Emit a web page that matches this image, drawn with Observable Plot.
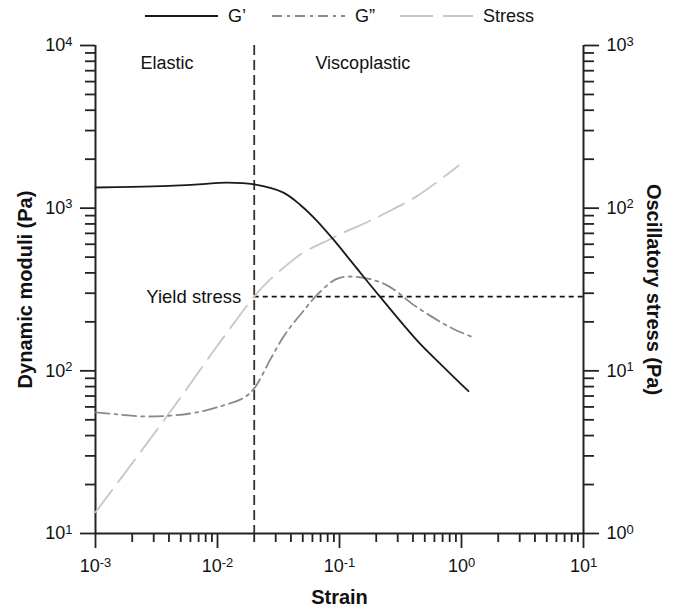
<!DOCTYPE html>
<html><head><meta charset="utf-8">
<script src="https://cdn.jsdelivr.net/npm/d3@7"></script>
<script src="https://cdn.jsdelivr.net/npm/@observablehq/plot@0.6"></script>
<style>
body{margin:0;background:#fff;font-family:"Liberation Sans",Arial,sans-serif;color:#111;}
#legend{position:relative;height:32px;width:675px;}
.item{position:absolute;top:0;height:32px;display:flex;align-items:center;font-size:18px;}
.item svg{margin-right:10px;}
#chart svg{display:block;}
</style></head><body>
<div id="legend"></div>
<div id="chart"></div>
<script>
// G' (storage modulus), Pa
const strainGp = [0.001, 0.002, 0.004, 0.007, 0.012, 0.02, 0.0347, 0.048, 0.065, 0.0893, 0.12, 0.163, 0.217, 0.435, 0.7, 1.14];
const Gp       = [1340, 1350, 1370, 1400, 1435, 1400, 1247, 1043, 839, 640, 488, 367, 283, 153, 107, 75];
// G'' (loss modulus), Pa
const strainGpp = [0.001, 0.0015, 0.0027, 0.006, 0.0112, 0.0165, 0.02, 0.0272, 0.034, 0.040, 0.051, 0.0635, 0.093, 0.123, 0.23, 0.435, 0.81, 1.19];
const Gpp       = [55.5, 54, 52.4, 54.7, 61.3, 68.5, 78, 118, 158, 188, 235, 286, 365, 380, 344, 245, 185, 163];
// Oscillatory stress, Pa (right axis)
const strainS = [0.001, 0.004, 0.01, 0.02, 0.0255, 0.041, 0.051, 0.082, 0.116, 0.163, 0.23, 0.434, 0.95];
const stress  = [1.35, 5.46, 14.3, 28.6, 35, 47.6, 53.6, 64, 72.5, 81, 92, 119, 183];
// Yield point
const yieldStrain = 0.02;
const yieldStress = 28.6;
// Axes
const xDomain = [0.001, 10];
const yDomain = [10, 10000];
const xMajor = [0.001, 0.01, 0.1, 1, 10];
const yMajor = [10, 100, 1000, 10000];
const seriesNames = ["G\u2019", "G\u201D", "Stress"];
const regionNames = ["Elastic", "Viscoplastic"];
const regionX = [0.00234, 0.0635];

const minor = (lo, hi) => {
  const out = [];
  for (let e = lo; e < hi; e++) for (let m = 2; m <= 9; m++) out.push(m * Math.pow(10, e));
  return out;
};
const xMinor = minor(-3, 1);
const yMinor = minor(1, 4);

const toRows = (xs, ys) => xs.map((x, i) => ({x, y: ys[i]}));
const gpRows = toRows(strainGp, Gp);
const gppRows = toRows(strainGpp, Gpp);
const sRows = toRows(strainS, stress);
const RATIO = 10; // left axis value / right axis value
const xMid = Math.sqrt(xDomain[0] * xDomain[1]);
const yMid = Math.sqrt(yDomain[0] * yDomain[1]);

const expLabel = v => "10^" + Math.round(Math.log10(v));

const styles = [
  {stroke: "#1a1a1a", dash: null},
  {stroke: "#8a8a8a", dash: "14,5,3,5"},
  {stroke: "#c6c6c6", dash: "28,10"}
];

// Legend
const legendPos = [145, 272, 400];
const legend = document.getElementById("legend");
seriesNames.forEach((name, i) => {
  const d = document.createElement("div");
  d.className = "item";
  d.style.left = legendPos[i] + "px";
  d.innerHTML = `<svg width="73" height="4"><line x1="0" x2="73" y1="2" y2="2" stroke="${styles[i].stroke}" stroke-width="2" ${styles[i].dash ? `stroke-dasharray="${i===2 ? "33,10" : "10,5,3,5"}"` : ""}/></svg><span>${name}</span>`;
  legend.appendChild(d);
});

const axisCol = "#222";
const plot = Plot.plot({
  width: 675,
  height: 580,
  marginTop: 13,
  marginBottom: 79,
  marginLeft: 95,
  marginRight: 92,
  style: {fontFamily: "Liberation Sans, Arial, sans-serif", background: "#fff", color: "#111"},
  x: {type: "log", domain: xDomain},
  y: {type: "log", domain: yDomain},
  marks: [
    // minor ticks
    Plot.axisX(xMinor, {anchor: "bottom", tickSize: 9, tickFormat: () => "", label: null, stroke: axisCol, strokeWidth: 1.8}),
    Plot.axisY(yMinor, {anchor: "left", tickSize: 10, tickFormat: () => "", label: null, stroke: axisCol, strokeWidth: 1.8}),
    Plot.axisY(yMinor, {anchor: "right", tickSize: 10, tickFormat: () => "", label: null, stroke: axisCol, strokeWidth: 1.8}),
    // major ticks
    Plot.axisX(xMajor, {anchor: "bottom", tickSize: 15, tickPadding: 11, fontSize: 18, tickFormat: expLabel, label: null, stroke: axisCol, strokeWidth: 1.8}),
    Plot.axisY(yMajor, {anchor: "left", tickSize: 15, tickPadding: 8, fontSize: 18, tickFormat: expLabel, label: null, stroke: axisCol, strokeWidth: 1.8}),
    Plot.axisY(yMajor, {anchor: "right", tickSize: 15, tickPadding: 8, fontSize: 18, tickFormat: d => expLabel(d / RATIO), label: null, stroke: axisCol, strokeWidth: 1.8}),
    // axis lines
    Plot.ruleY([yDomain[0]], {stroke: axisCol, strokeWidth: 2}),
    Plot.ruleX([xDomain[0]], {stroke: axisCol, strokeWidth: 2}),
    Plot.ruleX([xDomain[1]], {stroke: axisCol, strokeWidth: 2}),
    // yield lines
    Plot.ruleX([yieldStrain], {stroke: "#333", strokeWidth: 1.8, strokeDasharray: "10,5"}),
    Plot.ruleY([yieldStress * RATIO], {x1: yieldStrain, x2: xDomain[1], stroke: "#111", strokeWidth: 1.6, strokeDasharray: "5,4"}),
    // series
    Plot.line(sRows, {x: "x", y: d => d.y * RATIO, curve: "catmull-rom", stroke: styles[2].stroke, strokeWidth: 1.8, strokeDasharray: styles[2].dash}),
    Plot.line(gppRows, {x: "x", y: "y", curve: "catmull-rom", stroke: styles[1].stroke, strokeWidth: 1.8, strokeDasharray: styles[1].dash}),
    Plot.line(gpRows, {x: "x", y: "y", curve: "catmull-rom", stroke: styles[0].stroke, strokeWidth: 1.8}),
    // annotations
    Plot.text(regionNames, {x: (d, i) => regionX[i], frameAnchor: "top", dy: 11, text: d => d, textAnchor: "start", fontSize: 18}),
    Plot.text(["Yield stress"], {x: () => yieldStrain, y: () => yieldStress * RATIO, text: d => d, textAnchor: "end", dx: -13, fontSize: 18.5}),
    // axis titles
    Plot.text(["Strain"], {x: () => xMid, y: () => yDomain[0], dy: 64, text: d => d, fontSize: 20, fontWeight: "bold"}),
    Plot.text(["Dynamic moduli (Pa)"], {x: () => xDomain[0], y: () => yMid, dx: -70, rotate: -90, text: d => d, fontSize: 20, fontWeight: "bold"}),
    Plot.text(["Oscillatory stress (Pa)"], {x: () => xDomain[1], y: () => yMid, dx: 70, rotate: 90, text: d => d, fontSize: 20, fontWeight: "bold"})
  ]
});
document.getElementById("chart").appendChild(plot);

// superscript exponents in tick labels
plot.querySelectorAll("text").forEach(t => {
  const m = /^10\^(.+)$/.exec(t.textContent);
  if (m) {
    t.textContent = "10";
    const ts = document.createElementNS("http://www.w3.org/2000/svg", "tspan");
    ts.setAttribute("dy", "-0.42em");
    ts.setAttribute("font-size", "0.72em");
    ts.textContent = m[1];
    t.appendChild(ts);
  }
});
</script>
</body></html>
